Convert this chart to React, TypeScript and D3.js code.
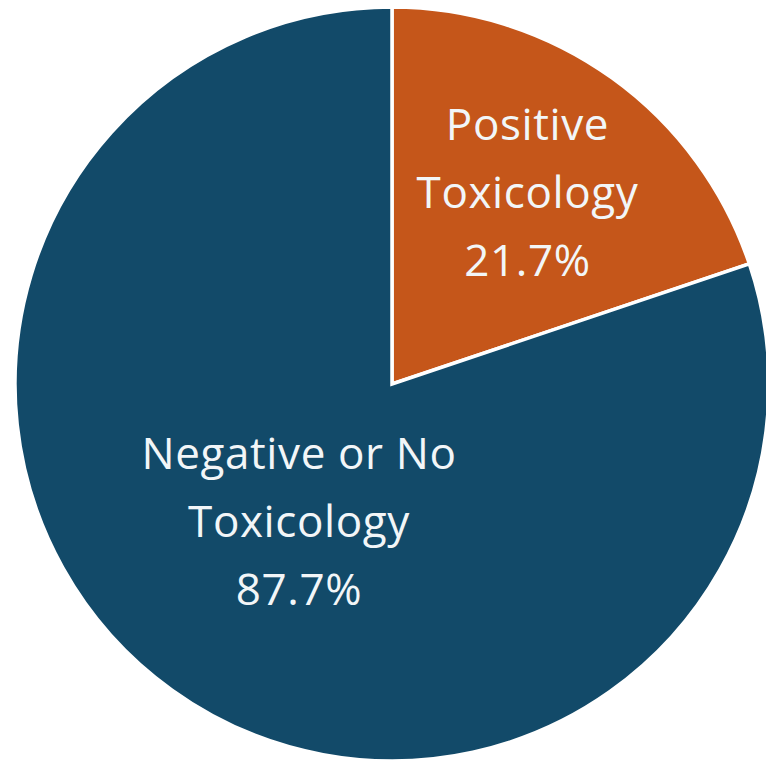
import * as d3 from 'd3';

const categories = ['Positive Toxicology', 'Negative or No Toxicology'];
const values = [21.7, 87.7];
const labelLines = [
  ['Positive', 'Toxicology', '21.7%'],
  ['Negative or No', 'Toxicology', '87.7%'],
];
const colors = ['#c5561a', '#124a69'];

const W = 766;
const H = 762;
const cx = 392;
const cy = 384;
const R = 377;
// how far out along each slice its label sits, as a share of the radius
const labelPos = [0.625, 0.45];
const labelNudge = [-2, 6];

export default function App() {
  const pie = d3
    .pie<number>()
    .value((d) => d)
    .sort(null);
  const arcs = pie(values);
  const arc = d3.arc<d3.PieArcDatum<number>>().innerRadius(0).outerRadius(R);

  return (
    <svg
      width={W}
      height={H}
      style={{ position: 'absolute', left: 0, top: 0, background: '#fff' }}
    >
      <g transform={`translate(${cx},${cy})`}>
        {arcs.map((a, i) => (
          <path
            key={categories[i]}
            d={arc(a) || ''}
            fill={colors[i]}
            stroke="#fff"
            strokeWidth={3.5}
            strokeLinejoin="miter"
          />
        ))}
        {arcs.map((a, i) => {
          const r = R * labelPos[i];
          const [lx, ly] = d3
            .arc<d3.PieArcDatum<number>>()
            .innerRadius(r)
            .outerRadius(r)
            .centroid(a);
          const lines = labelLines[i];
          const lh = 68;
          return (
            <text
              key={'l' + i}
              x={lx}
              y={ly}
              textAnchor="middle"
              fill="#f2f6f8"
              fontFamily="'Open Sans', sans-serif"
              fontSize={44}
              letterSpacing={0.6}
            >
              {lines.map((t, j) => (
                <tspan
                  key={j}
                  x={lx + labelNudge[i]}
                  y={ly + (j - (lines.length - 1) / 2) * lh}
                  dy="0.35em"
                >
                  {t}
                </tspan>
              ))}
            </text>
          );
        })}
      </g>
    </svg>
  );
}
